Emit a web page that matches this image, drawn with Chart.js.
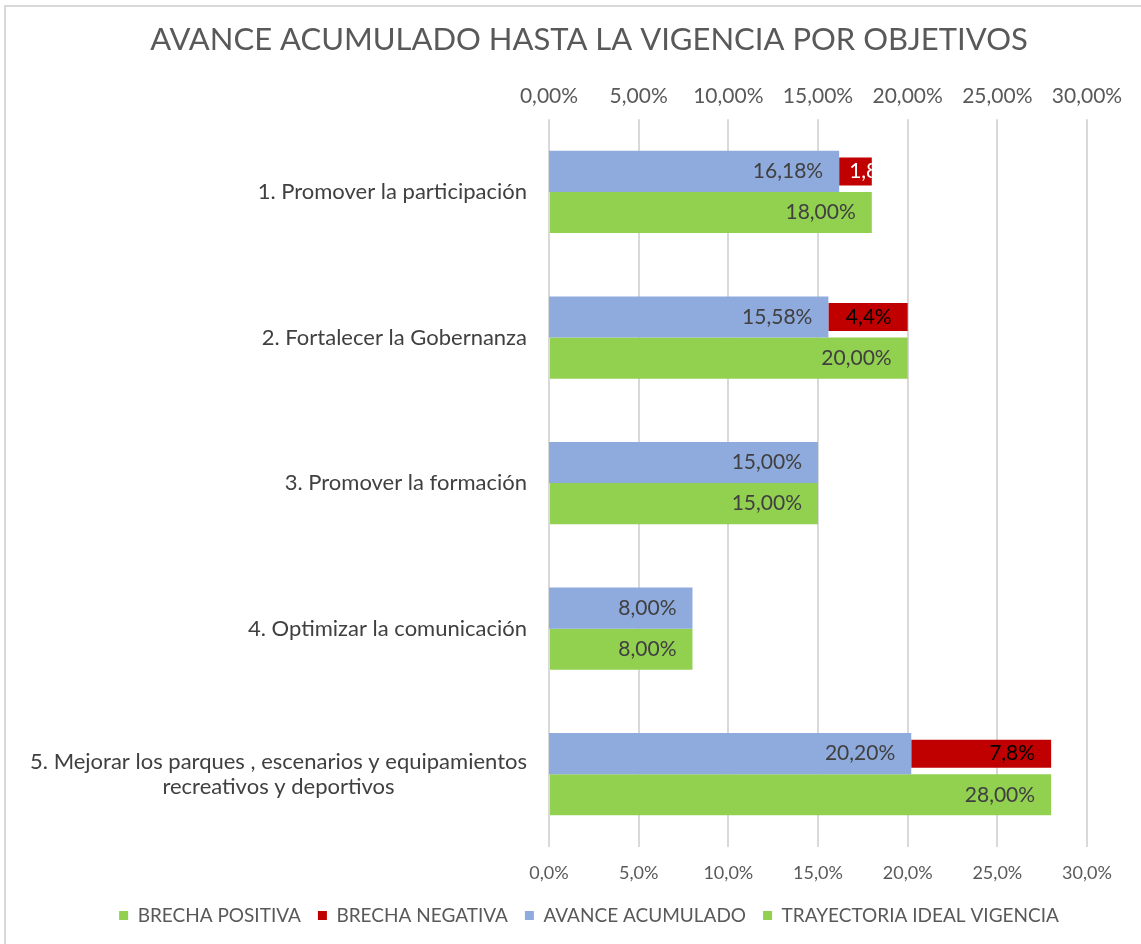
<!DOCTYPE html>
<html lang="es">
<head>
<meta charset="UTF-8">
<title>Avance acumulado hasta la vigencia por objetivos</title>
<script src="https://cdn.jsdelivr.net/npm/chart.js"></script>
<style>
  html, body { margin: 0; padding: 0; background: #fff; }
  #wrap { position: relative; width: 1141px; height: 944px; overflow: hidden; }
  #frame { position: absolute; left: 4px; top: 5px; width: 1200px; height: 1000px; border: 2px solid #d9d9d9; }
  canvas { position: absolute; left: 0; top: 0; }
</style>
</head>
<body>
<div id="wrap">
  <div id="frame"></div>
  <canvas id="chart" width="1141" height="944"></canvas>
</div>
<script>
// data (percent)
const objetivos = [
  ['1. Promover la participación'],
  ['2. Fortalecer la Gobernanza'],
  ['3. Promover la formación'],
  ['4. Optimizar la comunicación'],
  ['5. Mejorar los parques , escenarios y equipamientos', 'recreativos y deportivos']
];
const avance = [16.18, 15.58, 15.00, 8.00, 20.20];
const brechaNegativa = [1.82, 4.42, 0, 0, 7.80];
const brechaPositiva = [0, 0, 0, 0, 0];
const trayectoria = [18.00, 20.00, 15.00, 8.00, 28.00];
const ejeMin = 0, ejeMax = 30, ejePaso = 5;
const legendOrder = ['BRECHA POSITIVA', 'BRECHA NEGATIVA', 'AVANCE ACUMULADO', 'TRAYECTORIA IDEAL VIGENCIA'];

const FONT = 'Lato, "Open Sans", sans-serif';
const fmt = (v, d) => v.toFixed(d).replace('.', ',') + '%';

// value labels drawn at the end of each bar
const barLabels = {
  id: 'barLabels',
  afterDatasetsDraw(chart) {
    const ctx = chart.ctx;
    ctx.save();
    ctx.font = '21px ' + FONT;
    ctx.textBaseline = 'middle';
    chart.data.datasets.forEach((ds, i) => {
      const meta = chart.getDatasetMeta(i);
      if (meta.hidden || ds.labelDigits === undefined) return;
      meta.data.forEach((bar, j) => {
        const v = ds.data[j];
        if (!v) return;
        const txt = fmt(v, ds.labelDigits);
        const w = ctx.measureText(txt).width;
        const left = Math.min(bar.x, bar.base), right = Math.max(bar.x, bar.base);
        if (right - left < w + 20) {
          // too narrow: white text cut by the bar
          ctx.save();
          ctx.beginPath();
          ctx.rect(left, bar.y - bar.height / 2, right - left, bar.height);
          ctx.clip();
          ctx.fillStyle = '#ffffff';
          ctx.textAlign = 'left';
          ctx.fillText(txt, left + 10, bar.y);
          ctx.restore();
        } else {
          ctx.fillStyle = ds.labelColor;
          ctx.textAlign = 'right';
          ctx.fillText(txt, right - 16, bar.y);
        }
      });
    });
    ctx.restore();
  }
};

// category names, right aligned block with centred lines (like Excel)
const catLabels = {
  id: 'catLabels',
  afterDraw(chart) {
    const {ctx, chartArea, scales} = chart;
    ctx.save();
    ctx.font = '22px ' + FONT;
    ctx.fillStyle = '#404040';
    ctx.textAlign = 'center';
    ctx.textBaseline = 'middle';
    objetivos.forEach((lines, i) => {
      const y = scales.y.getPixelForValue(i);
      const wmax = Math.max(...lines.map(l => ctx.measureText(l).width));
      const cx = chartArea.left - 22 - wmax / 2;
      lines.forEach((l, k) => ctx.fillText(l, cx, y + (k - (lines.length - 1) / 2) * 25));
    });
    ctx.restore();
  }
};

new Chart(document.getElementById('chart'), {
  type: 'bar',
  data: {
    labels: objetivos.map(l => l.join(' ')),
    datasets: [
      { label: 'AVANCE ACUMULADO', data: avance, xAxisID: 'x2', stack: 'a',
        backgroundColor: '#8faadc', labelDigits: 2, labelColor: '#404040' },
      { label: 'BRECHA NEGATIVA', data: brechaNegativa, xAxisID: 'x2', stack: 'a',
        backgroundColor: '#c00000', barPercentage: 0.68, labelDigits: 1, labelColor: '#000000' },
      { label: 'BRECHA POSITIVA', data: brechaPositiva, xAxisID: 'x2', stack: 'a',
        backgroundColor: '#92d050' },
      { label: 'TRAYECTORIA IDEAL VIGENCIA', data: trayectoria, xAxisID: 'x', stack: 'b',
        backgroundColor: '#92d050', labelDigits: 2, labelColor: '#404040' }
    ]
  },
  options: {
    indexAxis: 'y',
    responsive: false,
    animation: false,
    datasets: { bar: { categoryPercentage: 0.565, barPercentage: 1, borderWidth: 0 } },
    layout: { padding: { left: 91, right: 54, top: 10, bottom: 9 } },
    scales: {
      y: {
        type: 'category',
        grid: { display: false, drawTicks: false },
        border: { display: false },
        ticks: { display: false },
        afterFit: s => { s.width = 458; }
      },
      x: {
        position: 'bottom',
        min: ejeMin, max: ejeMax, stacked: true,
        ticks: { stepSize: ejePaso, callback: v => fmt(v, 1), color: '#595959',
                 font: { family: FONT, size: 18 }, padding: 15 },
        grid: { color: '#d9d9d9', lineWidth: 2, drawTicks: false },
        border: { display: false },
        afterFit: s => { s.height = 42; }
      },
      x2: {
        position: 'top',
        min: ejeMin, max: ejeMax, stacked: true,
        ticks: { stepSize: ejePaso, callback: v => fmt(v, 2), color: '#595959',
                 font: { family: FONT, size: 21 }, padding: 10 },
        grid: { display: false, drawTicks: false },
        border: { display: false },
        afterFit: s => { s.height = 40; }
      }
    },
    plugins: {
      title: {
        display: true,
        text: 'AVANCE ACUMULADO HASTA LA VIGENCIA POR OBJETIVOS',
        color: '#595959',
        font: { family: FONT, size: 31, weight: 'normal' },
        padding: { top: 11, bottom: 21 }
      },
      legend: {
        position: 'bottom',
        labels: {
          boxWidth: 9, boxHeight: 9, padding: 17,
          color: '#595959', font: { family: FONT, size: 19 },
          sort: (a, b) => legendOrder.indexOf(a.text) - legendOrder.indexOf(b.text)
        }
      },
      tooltip: { enabled: false }
    }
  },
  plugins: [barLabels, catLabels]
});
</script>
</body>
</html>
